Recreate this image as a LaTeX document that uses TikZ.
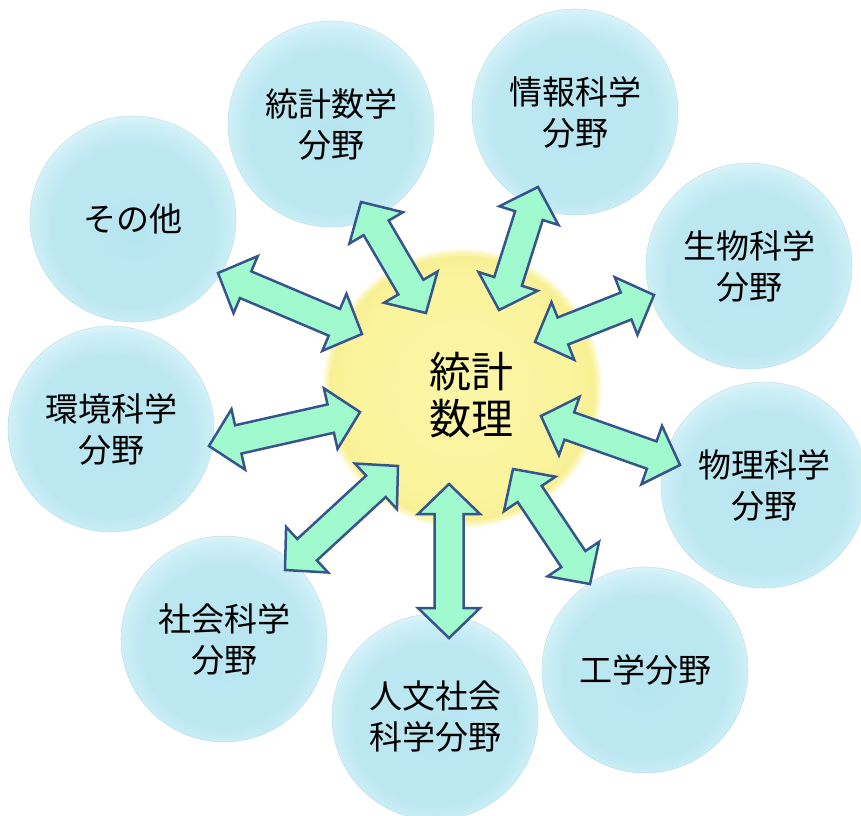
\documentclass[tikz,border=0pt]{standalone}
\usepackage{fontspec}
\newfontfamily\cjk{Noto Sans CJK JP}
\usetikzlibrary{calc}
\definecolor{arrowfill}{RGB}{160,250,205}
\definecolor{arrowline}{RGB}{55,85,140}
\definecolor{bubbleline}{RGB}{180,212,220}
\pgfdeclareradialshading{bubbleshade}{\pgfpoint{0bp}{-3bp}}{rgb(0bp)=(0.72,0.90,0.94); rgb(20bp)=(0.74,0.91,0.95); rgb(25bp)=(0.81,0.94,0.97); rgb(28bp)=(0.92,0.97,0.98); rgb(50bp)=(1,1,1)}
\pgfdeclareradialshading{coreshade}{\pgfpoint{0bp}{0bp}}{rgb(0bp)=(0.985,0.965,0.66); rgb(20bp)=(0.98,0.955,0.61); rgb(23.5bp)=(0.97,0.94,0.58); rgb(24.6bp)=(0.99,0.98,0.82); rgb(25bp)=(1,1,1); rgb(50bp)=(1,1,1)}
\newcommand{\dblblock}[2]{%
  \draw[blockarrow] (#1)
    -- ($(#1)!30pt!(#2)!31pt!90:(#2)$)
    -- ($(#1)!30pt!(#2)!14.5pt!90:(#2)$)
    -- ($(#2)!30pt!(#1)!14.5pt!-90:(#1)$)
    -- ($(#2)!30pt!(#1)!31pt!-90:(#1)$)
    -- (#2)
    -- ($(#2)!30pt!(#1)!31pt!90:(#1)$)
    -- ($(#2)!30pt!(#1)!14.5pt!90:(#1)$)
    -- ($(#1)!30pt!(#2)!14.5pt!-90:(#2)$)
    -- ($(#1)!30pt!(#2)!31pt!-90:(#2)$)
    -- cycle;}
\tikzset{
  bubble/.style={circle, minimum size=206pt, inner sep=0pt, shading=bubbleshade,
    draw=bubbleline, draw opacity=0.6, line width=0.6pt, align=center, text=black,
    font=\cjk\fontsize{33}{41}\selectfont},
  corecircle/.style={circle, minimum size=280pt, inner sep=0pt, shading=coreshade},
  coretext/.style={align=center, text=black, font=\cjk\fontsize{42}{47}\selectfont},
  blockarrow/.style={draw=arrowline, fill=arrowfill, line width=2.5pt, line join=miter}
}
\begin{document}
\begin{tikzpicture}[x=1pt, y=-1pt]
\useasboundingbox (0,0) rectangle (861,815);
% outer bubbles
\node[bubble] (tsm)   at (331,124) {統計数学\\分野};
\node[bubble] (info)  at (575,112) {情報科学\\分野};
\node[bubble] (bio)   at (749,266) {生物科学\\分野};
\node[bubble] (phys)  at (764,485) {物理科学\\分野};
\node[bubble] (eng)   at (645,670) {工学分野};
\node[bubble] (hum)   at (435,717) {人文社会\\科学分野};
\node[bubble] (soc)   at (224,639) {社会科学\\分野};
\node[bubble] (env)   at (111,429) {環境科学\\分野};
\node[bubble] (other) at (133,219) {その他};
% centre
\node[corecircle] (core) at (462,388) {};
\node[coretext] (coretxt) at (471,395) {統計\\数理};
% arrow end points
\coordinate (aTsm)  at (361,202); \coordinate (cTsm)  at (426,313);
\coordinate (aInfo) at (538,187); \coordinate (cInfo) at (499,310);
\coordinate (aBio)  at (654,295); \coordinate (cBio)  at (535,342);
\coordinate (aPhys) at (680,465); \coordinate (cPhys) at (541,416);
\coordinate (aEng)  at (590,584); \coordinate (cEng)  at (513,469);
\coordinate (aHum)  at (449,638); \coordinate (cHum)  at (449,484);
\coordinate (aSoc)  at (285,570); \coordinate (cSoc)  at (398,466);
\coordinate (aEnv)  at (209,446); \coordinate (cEnv)  at (360,412);
\coordinate (aOth)  at (218,273); \coordinate (cOth)  at (362,334);
\dblblock{aTsm}{cTsm}
\dblblock{aInfo}{cInfo}
\dblblock{aBio}{cBio}
\dblblock{aPhys}{cPhys}
\dblblock{aEng}{cEng}
\dblblock{aHum}{cHum}
\dblblock{aSoc}{cSoc}
\dblblock{aEnv}{cEnv}
\dblblock{aOth}{cOth}
\end{tikzpicture}
\end{document}
